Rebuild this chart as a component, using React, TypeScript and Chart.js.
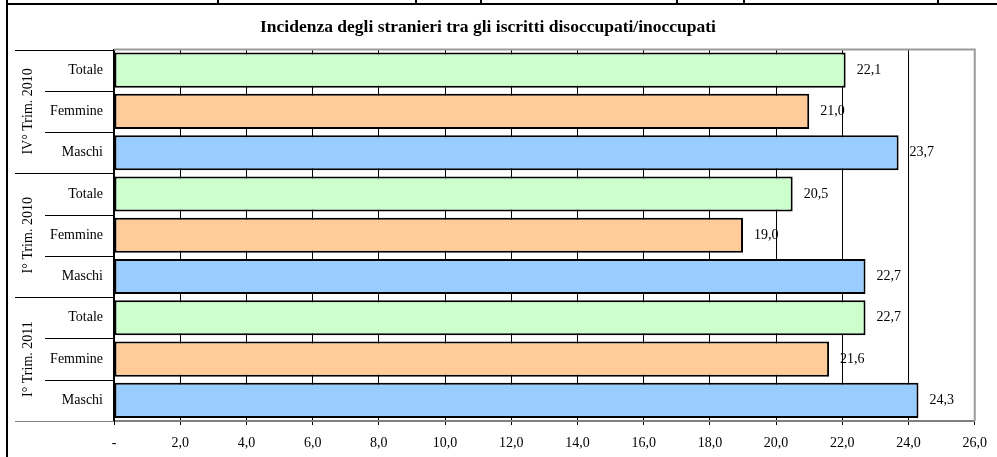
import React, { useEffect, useRef } from "react";
import { Chart, registerables } from "chart.js";

Chart.register(...registerables);

const TITLE = "Incidenza degli stranieri tra gli iscritti disoccupati/inoccupati";
const groups = ["IV° Trim. 2010", "I° Trim. 2010", "I° Trim. 2011"];
const subLabels = ["Totale", "Femmine", "Maschi"];
const totale = [22.1, 20.5, 22.7];
const femmine = [21.0, 19.0, 21.6];
const maschi = [23.7, 22.7, 24.3];
const subColors = ["#CCFFCC", "#FFCC99", "#99CCFF"];
const xMin = 0;
const xMax = 26;
const xStep = 2;

const FONT = "'Liberation Serif', 'Times New Roman', serif";

const categories: string[] = [];
const values: number[] = [];
const colors: string[] = [];
groups.forEach((g, gi) => {
  const row = [totale[gi], femmine[gi], maschi[gi]];
  subLabels.forEach((s, si) => {
    categories.push(s);
    values.push(row[si]);
    colors.push(subColors[si]);
  });
});

const fmt = (v: number) => (v === 0 ? "-" : v.toFixed(1).replace(".", ","));

const framePlugin = {
  id: "frame",
  beforeDraw(chart: any) {
    const ctx = chart.ctx;
    ctx.save();
    ctx.fillStyle = "#fff";
    ctx.fillRect(0, 0, chart.width, chart.height);
    // table fragment at top
    ctx.strokeStyle = "#000";
    ctx.lineWidth = 2;
    ctx.beginPath();
    ctx.moveTo(6, 4);
    ctx.lineTo(chart.width, 4);
    ctx.stroke();
    [218, 416, 481, 677, 744, 938].forEach((x) => {
      ctx.beginPath();
      ctx.moveTo(x, 0);
      ctx.lineTo(x, 4);
      ctx.stroke();
    });
    ctx.beginPath();
    ctx.moveTo(7, 0);
    ctx.lineTo(7, chart.height);
    ctx.stroke();
    ctx.restore();
  },
  afterDatasetsDraw(chart: any) {
    const ctx = chart.ctx;
    const { left, right, top, bottom } = chart.chartArea;
    const n = categories.length;
    const step = (bottom - top) / n;
    ctx.save();
    // plot border (grey top & right)
    ctx.strokeStyle = "#9a9a9a";
    ctx.lineWidth = 2;
    ctx.beginPath();
    ctx.moveTo(left, top);
    ctx.lineTo(right, top);
    ctx.lineTo(right, bottom);
    ctx.stroke();
    // separators in label area
    ctx.lineWidth = 1;
    for (let i = 0; i <= n; i++) {
      const y = Math.round(top + i * step) + 0.5;
      const major = i % subLabels.length === 0;
      ctx.strokeStyle = i === n ? "#808080" : "#000";
      ctx.beginPath();
      ctx.moveTo(major ? 15 : 45, y);
      ctx.lineTo(left, y);
      ctx.stroke();
    }
    // group labels (rotated)
    ctx.fillStyle = "#000";
    ctx.font = `14px ${FONT}`;
    ctx.textAlign = "center";
    ctx.textBaseline = "middle";
    groups.forEach((g, gi) => {
      const yc = top + (gi * 3 + 1.5) * step;
      ctx.save();
      ctx.translate(28, yc);
      ctx.rotate(-Math.PI / 2);
      ctx.fillText(g, 0, 0);
      ctx.restore();
    });
    // value labels
    const meta = chart.getDatasetMeta(0);
    ctx.textAlign = "left";
    ctx.textBaseline = "middle";
    meta.data.forEach((bar: any, i: number) => {
      ctx.fillText(fmt(values[i]), bar.x + 11, bar.y);
    });
    ctx.restore();
  },
};

export default function App() {
  const ref = useRef<HTMLCanvasElement | null>(null);
  useEffect(() => {
    if (!ref.current) return;
    const chart = new Chart(ref.current, {
      type: "bar",
      data: {
        labels: categories,
        datasets: [
          {
            data: values,
            backgroundColor: colors,
            borderColor: "#000",
            borderWidth: 2,
            borderSkipped: false,
            barPercentage: 0.85,
            categoryPercentage: 1,
          },
        ],
      },
      options: {
        indexAxis: "y",
        responsive: true,
        maintainAspectRatio: false,
        animation: false,
        layout: { padding: { left: 0, right: 21, top: 0, bottom: 0 } },
        plugins: {
          legend: { display: false },
          tooltip: { enabled: false },
          title: {
            display: true,
            text: TITLE,
            color: "#000",
            font: { family: FONT, size: 17.5, weight: "bold" },
            padding: { top: 16.5, bottom: 12 },
          },
        },
        scales: {
          x: {
            type: "linear",
            min: xMin,
            max: xMax,
            afterFit: (s: any) => {
              s.height = 36;
            },
            ticks: {
              stepSize: xStep,
              color: "#000",
              font: { family: FONT, size: 14 },
              padding: 10,
              callback: (v: any) => fmt(Number(v)),
            },
            grid: {
              color: "#000",
              lineWidth: 1,
              drawTicks: true,
              tickLength: 4,
              tickColor: "#000",
            },
            border: { color: "#808080", width: 2 },
          },
          y: {
            type: "category",
            afterFit: (s: any) => {
              s.width = 114;
            },
            ticks: {
              color: "#000",
              font: { family: FONT, size: 14 },
              padding: 11,
            },
            grid: { display: false, drawTicks: false },
            border: { color: "#000", width: 2 },
          },
        },
      },
      plugins: [framePlugin],
    });
    return () => chart.destroy();
  }, []);
  return (
    <div style={{ position: "fixed", left: 0, top: 0, width: 997, height: 457, background: "#fff" }}>
      <canvas ref={ref} />
    </div>
  );
}
